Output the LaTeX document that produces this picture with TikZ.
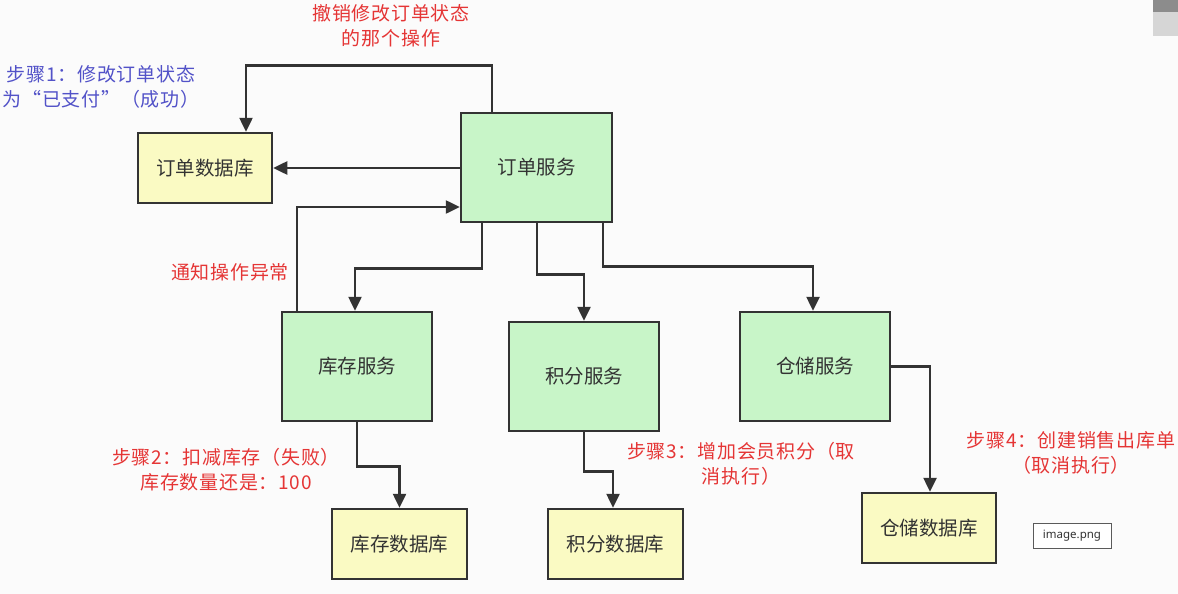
\documentclass[tikz,border=0pt]{standalone}
\usepackage{fontspec}
\newfontfamily\cjk{Noto Sans CJK SC}
\newfontfamily\cjkwide[LetterSpace=4]{Noto Sans CJK SC}
\newfontfamily\uisans{Noto Sans}
\usetikzlibrary{arrows.meta}
\definecolor{bg}{HTML}{FBFBFB}
\definecolor{ink}{HTML}{333333}
\definecolor{svcfill}{HTML}{C8F5C8}
\definecolor{dbfill}{HTML}{FAFAC3}
\definecolor{redtxt}{HTML}{E53535}
\definecolor{bluetxt}{HTML}{5252C8}
\tikzset{
  box/.style={draw=ink, line width=2.5pt, rectangle, inner sep=0pt, text=ink,
    font=\cjk\fontsize{19.5}{23}\selectfont},
  svc/.style={box, fill=svcfill, minimum width=150pt, minimum height=109pt},
  db/.style={box, fill=dbfill, minimum width=134pt, minimum height=70pt},
  conn/.style={draw=ink, line width=2.5pt, -{Triangle[length=14pt,width=13pt]}},
  note/.style={align=center, inner sep=0pt, font=\cjkwide\fontsize{19}{25}\selectfont},
  rednote/.style={note, text=redtxt},
  bluenote/.style={note, text=bluetxt}
}
\begin{document}
\begin{tikzpicture}[x=1pt,y=-1pt]
\fill[bg] (0,0) rectangle (1178,594);
\useasboundingbox (0,0) rectangle (1178,594);
% top-right gray marks
\fill[fill={rgb,255:red,140;green,140;blue,140}] (1153,0) rectangle (1178,12);
\fill[fill={rgb,255:red,214;green,214;blue,214}] (1153,12) rectangle (1178,36);

% nodes
\node[db]  (odb)  at (205,168)    {订单数据库};
\node[svc, minimum width=151pt] (osvc) at (536.5,167.5) {订单服务};
\node[svc] (kc)   at (357,366.5)  {库存服务};
\node[svc] (jf)   at (584,376.5)  {积分服务};
\node[svc] (cc)   at (815,366.5)  {仓储服务};
\node[db, minimum width=135pt] (kcdb) at (399.5,544) {库存数据库};
\node[db, minimum width=135pt] (jfdb) at (615.5,544) {积分数据库};
\node[db]  (ccdb) at (929,528)    {仓储数据库};

% connectors
\draw[conn] ([xshift=-44.5pt]osvc.north) -- ++(0,-46) -| ([xshift=41pt]odb.north);
\draw[conn] (odb.east -| osvc.west) -- (odb.east);
\draw[conn] ([xshift=-60pt]kc.north) |- ([yshift=-39.5pt]osvc.west);
\draw[conn] ([xshift=-54.5pt]osvc.south) -- ++(0,45) -| ([xshift=-2pt]kc.north);
\draw[conn] ([xshift=0.5pt]osvc.south) -- ++(0,51) -| (jf.north);
\draw[conn] ([xshift=66.5pt]osvc.south) -- ++(0,43) -| ([xshift=-2pt]cc.north);
\draw[conn] (kc.south) -- ++(0,44) -| (kcdb.north);
\draw[conn] (jf.south) -- ++(0,39) -| ([xshift=-2.5pt]jfdb.north);
\draw[conn] (cc.east) -| ([xshift=1pt]ccdb.north);

% labels
\node[rednote]  (undo)   at (391,26)  {撤销修改订单状态\\的那个操作};
\node[bluenote] (step1)  at (101,87)  {步骤1：修改订单状态\\为“已支付”（成功）};
\node[rednote]  (notify) at (230,272) {通知操作异常};
\node[rednote]  (step2)  at (226,470) {步骤2：扣减库存（失败）\\库存数量还是：100};
\node[rednote]  (step3)  at (741,464) {步骤3：增加会员积分（取\\消执行）};
\node[rednote]  (step4)  at (1071,453) {步骤4：创建销售出库单\\（取消执行）};

% tooltip
\node[draw={rgb,255:red,90;green,90;blue,90}, line width=0.8pt, fill=white,
  minimum width=78pt, minimum height=25pt, inner sep=0pt, text=ink,
  font=\uisans\fontsize{11.5}{14}\selectfont] (tip) at (1072,535.5) {image.png};
\end{tikzpicture}
\end{document}
